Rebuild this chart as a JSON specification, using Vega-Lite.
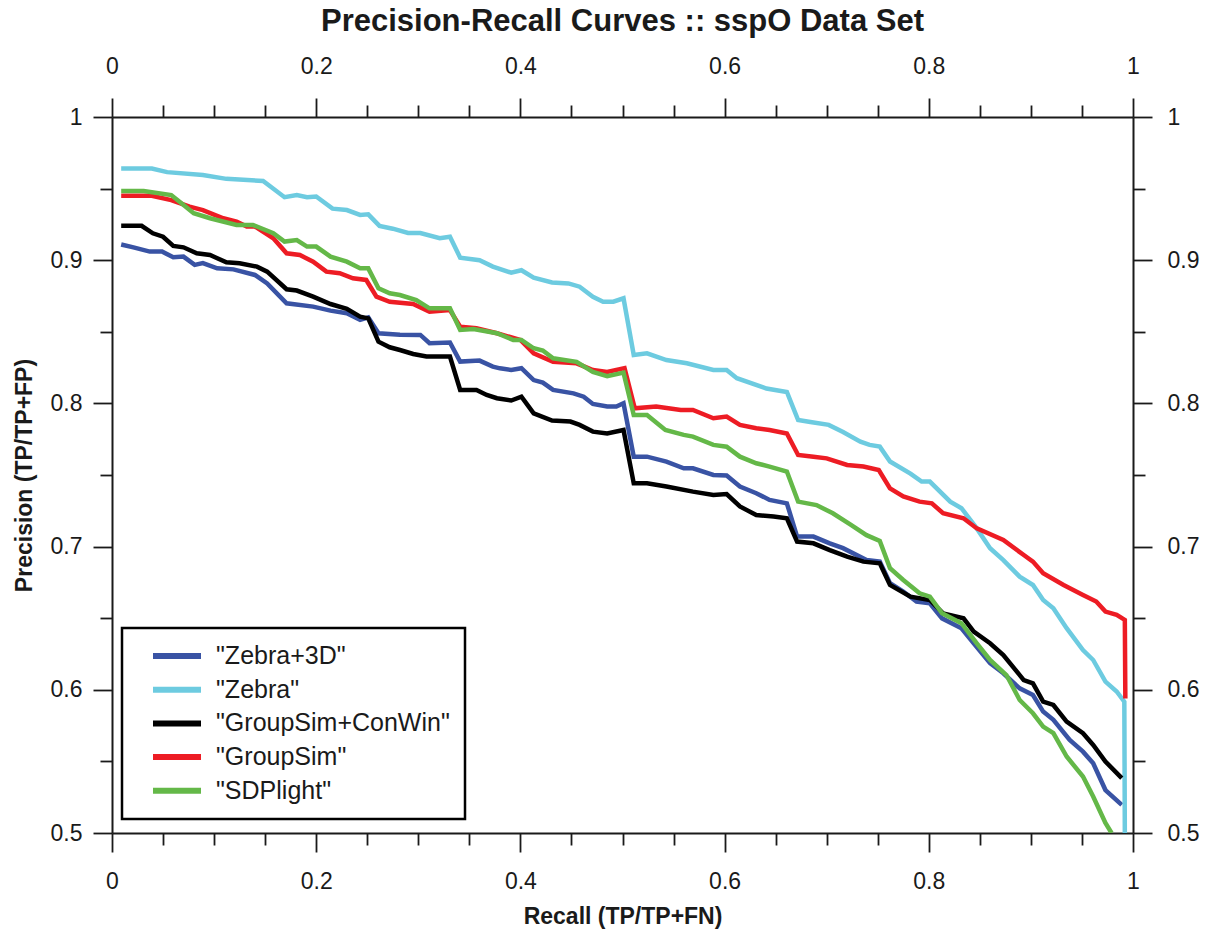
{
  "$schema": "https://vega.github.io/schema/vega-lite/v6.json",
  "width": 1021,
  "height": 716,
  "autosize": {"type": "none"},
  "padding": {"left": 112, "top": 117, "right": 80, "bottom": 105},
  "background": "white",
  "title": {"text": "Precision-Recall Curves :: sspO Data Set", "font": "Liberation Sans", "fontSize": 31, "fontWeight": "bold", "color": "#1a1a1a", "anchor": "middle", "offset": 17},
  "datasets": {
    "pr": [
      {"series": "\"Zebra+3D\"", "recall": 0.009, "precision": 0.911},
      {"series": "\"Zebra+3D\"", "recall": 0.021, "precision": 0.909},
      {"series": "\"Zebra+3D\"", "recall": 0.037, "precision": 0.906},
      {"series": "\"Zebra+3D\"", "recall": 0.049, "precision": 0.906},
      {"series": "\"Zebra+3D\"", "recall": 0.060, "precision": 0.902},
      {"series": "\"Zebra+3D\"", "recall": 0.070, "precision": 0.9025},
      {"series": "\"Zebra+3D\"", "recall": 0.081, "precision": 0.8967},
      {"series": "\"Zebra+3D\"", "recall": 0.089, "precision": 0.898},
      {"series": "\"Zebra+3D\"", "recall": 0.103, "precision": 0.8943},
      {"series": "\"Zebra+3D\"", "recall": 0.119, "precision": 0.8936},
      {"series": "\"Zebra+3D\"", "recall": 0.140, "precision": 0.8897},
      {"series": "\"Zebra+3D\"", "recall": 0.152, "precision": 0.8838},
      {"series": "\"Zebra+3D\"", "recall": 0.171, "precision": 0.8699},
      {"series": "\"Zebra+3D\"", "recall": 0.197, "precision": 0.8676},
      {"series": "\"Zebra+3D\"", "recall": 0.214, "precision": 0.8648},
      {"series": "\"Zebra+3D\"", "recall": 0.230, "precision": 0.863},
      {"series": "\"Zebra+3D\"", "recall": 0.243, "precision": 0.8583},
      {"series": "\"Zebra+3D\"", "recall": 0.251, "precision": 0.8601},
      {"series": "\"Zebra+3D\"", "recall": 0.261, "precision": 0.849},
      {"series": "\"Zebra+3D\"", "recall": 0.282, "precision": 0.848},
      {"series": "\"Zebra+3D\"", "recall": 0.302, "precision": 0.8478},
      {"series": "\"Zebra+3D\"", "recall": 0.311, "precision": 0.842},
      {"series": "\"Zebra+3D\"", "recall": 0.331, "precision": 0.8425},
      {"series": "\"Zebra+3D\"", "recall": 0.341, "precision": 0.8292},
      {"series": "\"Zebra+3D\"", "recall": 0.360, "precision": 0.8299},
      {"series": "\"Zebra+3D\"", "recall": 0.373, "precision": 0.8257},
      {"series": "\"Zebra+3D\"", "recall": 0.380, "precision": 0.8245},
      {"series": "\"Zebra+3D\"", "recall": 0.391, "precision": 0.8233},
      {"series": "\"Zebra+3D\"", "recall": 0.401, "precision": 0.8246},
      {"series": "\"Zebra+3D\"", "recall": 0.413, "precision": 0.8163},
      {"series": "\"Zebra+3D\"", "recall": 0.422, "precision": 0.8145},
      {"series": "\"Zebra+3D\"", "recall": 0.432, "precision": 0.8094},
      {"series": "\"Zebra+3D\"", "recall": 0.452, "precision": 0.807},
      {"series": "\"Zebra+3D\"", "recall": 0.462, "precision": 0.8047},
      {"series": "\"Zebra+3D\"", "recall": 0.471, "precision": 0.7996},
      {"series": "\"Zebra+3D\"", "recall": 0.485, "precision": 0.7978},
      {"series": "\"Zebra+3D\"", "recall": 0.494, "precision": 0.7978},
      {"series": "\"Zebra+3D\"", "recall": 0.501, "precision": 0.8001},
      {"series": "\"Zebra+3D\"", "recall": 0.511, "precision": 0.7628},
      {"series": "\"Zebra+3D\"", "recall": 0.524, "precision": 0.7628},
      {"series": "\"Zebra+3D\"", "recall": 0.543, "precision": 0.7594},
      {"series": "\"Zebra+3D\"", "recall": 0.560, "precision": 0.7547},
      {"series": "\"Zebra+3D\"", "recall": 0.569, "precision": 0.7547},
      {"series": "\"Zebra+3D\"", "recall": 0.589, "precision": 0.75},
      {"series": "\"Zebra+3D\"", "recall": 0.602, "precision": 0.7496},
      {"series": "\"Zebra+3D\"", "recall": 0.615, "precision": 0.742},
      {"series": "\"Zebra+3D\"", "recall": 0.631, "precision": 0.7373},
      {"series": "\"Zebra+3D\"", "recall": 0.644, "precision": 0.7326},
      {"series": "\"Zebra+3D\"", "recall": 0.661, "precision": 0.7302},
      {"series": "\"Zebra+3D\"", "recall": 0.671, "precision": 0.707},
      {"series": "\"Zebra+3D\"", "recall": 0.687, "precision": 0.707},
      {"series": "\"Zebra+3D\"", "recall": 0.703, "precision": 0.7023},
      {"series": "\"Zebra+3D\"", "recall": 0.716, "precision": 0.6989},
      {"series": "\"Zebra+3D\"", "recall": 0.739, "precision": 0.6906},
      {"series": "\"Zebra+3D\"", "recall": 0.752, "precision": 0.6895},
      {"series": "\"Zebra+3D\"", "recall": 0.762, "precision": 0.6744},
      {"series": "\"Zebra+3D\"", "recall": 0.775, "precision": 0.6686},
      {"series": "\"Zebra+3D\"", "recall": 0.788, "precision": 0.6616},
      {"series": "\"Zebra+3D\"", "recall": 0.801, "precision": 0.6604},
      {"series": "\"Zebra+3D\"", "recall": 0.813, "precision": 0.6499},
      {"series": "\"Zebra+3D\"", "recall": 0.832, "precision": 0.643},
      {"series": "\"Zebra+3D\"", "recall": 0.844, "precision": 0.6325},
      {"series": "\"Zebra+3D\"", "recall": 0.860, "precision": 0.6186},
      {"series": "\"Zebra+3D\"", "recall": 0.873, "precision": 0.6115},
      {"series": "\"Zebra+3D\"", "recall": 0.889, "precision": 0.601},
      {"series": "\"Zebra+3D\"", "recall": 0.902, "precision": 0.5964},
      {"series": "\"Zebra+3D\"", "recall": 0.912, "precision": 0.5848},
      {"series": "\"Zebra+3D\"", "recall": 0.922, "precision": 0.579},
      {"series": "\"Zebra+3D\"", "recall": 0.938, "precision": 0.565},
      {"series": "\"Zebra+3D\"", "recall": 0.951, "precision": 0.5568},
      {"series": "\"Zebra+3D\"", "recall": 0.961, "precision": 0.5487},
      {"series": "\"Zebra+3D\"", "recall": 0.973, "precision": 0.53},
      {"series": "\"Zebra+3D\"", "recall": 0.989, "precision": 0.5196},

      {"series": "\"Zebra\"", "recall": 0.009, "precision": 0.964},
      {"series": "\"Zebra\"", "recall": 0.039, "precision": 0.964},
      {"series": "\"Zebra\"", "recall": 0.054, "precision": 0.9615},
      {"series": "\"Zebra\"", "recall": 0.089, "precision": 0.9595},
      {"series": "\"Zebra\"", "recall": 0.112, "precision": 0.9568},
      {"series": "\"Zebra\"", "recall": 0.148, "precision": 0.9553},
      {"series": "\"Zebra\"", "recall": 0.169, "precision": 0.944},
      {"series": "\"Zebra\"", "recall": 0.181, "precision": 0.9455},
      {"series": "\"Zebra\"", "recall": 0.191, "precision": 0.944},
      {"series": "\"Zebra\"", "recall": 0.200, "precision": 0.9445},
      {"series": "\"Zebra\"", "recall": 0.216, "precision": 0.936},
      {"series": "\"Zebra\"", "recall": 0.230, "precision": 0.935},
      {"series": "\"Zebra\"", "recall": 0.243, "precision": 0.9316},
      {"series": "\"Zebra\"", "recall": 0.251, "precision": 0.932},
      {"series": "\"Zebra\"", "recall": 0.262, "precision": 0.924},
      {"series": "\"Zebra\"", "recall": 0.275, "precision": 0.922},
      {"series": "\"Zebra\"", "recall": 0.290, "precision": 0.919},
      {"series": "\"Zebra\"", "recall": 0.302, "precision": 0.919},
      {"series": "\"Zebra\"", "recall": 0.321, "precision": 0.9153},
      {"series": "\"Zebra\"", "recall": 0.331, "precision": 0.9164},
      {"series": "\"Zebra\"", "recall": 0.341, "precision": 0.9018},
      {"series": "\"Zebra\"", "recall": 0.360, "precision": 0.900},
      {"series": "\"Zebra\"", "recall": 0.373, "precision": 0.8955},
      {"series": "\"Zebra\"", "recall": 0.391, "precision": 0.8913},
      {"series": "\"Zebra\"", "recall": 0.401, "precision": 0.893},
      {"series": "\"Zebra\"", "recall": 0.413, "precision": 0.8878},
      {"series": "\"Zebra\"", "recall": 0.431, "precision": 0.8845},
      {"series": "\"Zebra\"", "recall": 0.447, "precision": 0.8838},
      {"series": "\"Zebra\"", "recall": 0.458, "precision": 0.8815},
      {"series": "\"Zebra\"", "recall": 0.471, "precision": 0.8745},
      {"series": "\"Zebra\"", "recall": 0.481, "precision": 0.871},
      {"series": "\"Zebra\"", "recall": 0.491, "precision": 0.871},
      {"series": "\"Zebra\"", "recall": 0.501, "precision": 0.8734},
      {"series": "\"Zebra\"", "recall": 0.511, "precision": 0.8338},
      {"series": "\"Zebra\"", "recall": 0.524, "precision": 0.835},
      {"series": "\"Zebra\"", "recall": 0.543, "precision": 0.8303},
      {"series": "\"Zebra\"", "recall": 0.563, "precision": 0.828},
      {"series": "\"Zebra\"", "recall": 0.589, "precision": 0.8233},
      {"series": "\"Zebra\"", "recall": 0.602, "precision": 0.8233},
      {"series": "\"Zebra\"", "recall": 0.612, "precision": 0.8176},
      {"series": "\"Zebra\"", "recall": 0.641, "precision": 0.8104},
      {"series": "\"Zebra\"", "recall": 0.661, "precision": 0.808},
      {"series": "\"Zebra\"", "recall": 0.672, "precision": 0.7884},
      {"series": "\"Zebra\"", "recall": 0.684, "precision": 0.787},
      {"series": "\"Zebra\"", "recall": 0.702, "precision": 0.785},
      {"series": "\"Zebra\"", "recall": 0.716, "precision": 0.780},
      {"series": "\"Zebra\"", "recall": 0.733, "precision": 0.7733},
      {"series": "\"Zebra\"", "recall": 0.742, "precision": 0.771},
      {"series": "\"Zebra\"", "recall": 0.752, "precision": 0.7698},
      {"series": "\"Zebra\"", "recall": 0.762, "precision": 0.7594},
      {"series": "\"Zebra\"", "recall": 0.782, "precision": 0.751},
      {"series": "\"Zebra\"", "recall": 0.793, "precision": 0.7454},
      {"series": "\"Zebra\"", "recall": 0.801, "precision": 0.7454},
      {"series": "\"Zebra\"", "recall": 0.821, "precision": 0.7314},
      {"series": "\"Zebra\"", "recall": 0.832, "precision": 0.7268},
      {"series": "\"Zebra\"", "recall": 0.847, "precision": 0.7127},
      {"series": "\"Zebra\"", "recall": 0.860, "precision": 0.6989},
      {"series": "\"Zebra\"", "recall": 0.873, "precision": 0.6906},
      {"series": "\"Zebra\"", "recall": 0.889, "precision": 0.679},
      {"series": "\"Zebra\"", "recall": 0.902, "precision": 0.6732},
      {"series": "\"Zebra\"", "recall": 0.912, "precision": 0.6627},
      {"series": "\"Zebra\"", "recall": 0.922, "precision": 0.657},
      {"series": "\"Zebra\"", "recall": 0.935, "precision": 0.643},
      {"series": "\"Zebra\"", "recall": 0.951, "precision": 0.6278},
      {"series": "\"Zebra\"", "recall": 0.961, "precision": 0.6208},
      {"series": "\"Zebra\"", "recall": 0.973, "precision": 0.6057},
      {"series": "\"Zebra\"", "recall": 0.984, "precision": 0.5988},
      {"series": "\"Zebra\"", "recall": 0.9915, "precision": 0.5917},
      {"series": "\"Zebra\"", "recall": 0.992, "precision": 0.5},

      {"series": "\"GroupSim+ConWin\"", "recall": 0.009, "precision": 0.924},
      {"series": "\"GroupSim+ConWin\"", "recall": 0.029, "precision": 0.924},
      {"series": "\"GroupSim+ConWin\"", "recall": 0.040, "precision": 0.9188},
      {"series": "\"GroupSim+ConWin\"", "recall": 0.050, "precision": 0.9164},
      {"series": "\"GroupSim+ConWin\"", "recall": 0.060, "precision": 0.910},
      {"series": "\"GroupSim+ConWin\"", "recall": 0.070, "precision": 0.909},
      {"series": "\"GroupSim+ConWin\"", "recall": 0.083, "precision": 0.9048},
      {"series": "\"GroupSim+ConWin\"", "recall": 0.096, "precision": 0.9036},
      {"series": "\"GroupSim+ConWin\"", "recall": 0.112, "precision": 0.8985},
      {"series": "\"GroupSim+ConWin\"", "recall": 0.125, "precision": 0.8978},
      {"series": "\"GroupSim+ConWin\"", "recall": 0.142, "precision": 0.8955},
      {"series": "\"GroupSim+ConWin\"", "recall": 0.152, "precision": 0.892},
      {"series": "\"GroupSim+ConWin\"", "recall": 0.171, "precision": 0.8797},
      {"series": "\"GroupSim+ConWin\"", "recall": 0.181, "precision": 0.8788},
      {"series": "\"GroupSim+ConWin\"", "recall": 0.197, "precision": 0.8746},
      {"series": "\"GroupSim+ConWin\"", "recall": 0.214, "precision": 0.8694},
      {"series": "\"GroupSim+ConWin\"", "recall": 0.230, "precision": 0.866},
      {"series": "\"GroupSim+ConWin\"", "recall": 0.243, "precision": 0.8606},
      {"series": "\"GroupSim+ConWin\"", "recall": 0.251, "precision": 0.8594},
      {"series": "\"GroupSim+ConWin\"", "recall": 0.261, "precision": 0.8431},
      {"series": "\"GroupSim+ConWin\"", "recall": 0.272, "precision": 0.8392},
      {"series": "\"GroupSim+ConWin\"", "recall": 0.282, "precision": 0.8373},
      {"series": "\"GroupSim+ConWin\"", "recall": 0.295, "precision": 0.8345},
      {"series": "\"GroupSim+ConWin\"", "recall": 0.308, "precision": 0.8327},
      {"series": "\"GroupSim+ConWin\"", "recall": 0.331, "precision": 0.8327},
      {"series": "\"GroupSim+ConWin\"", "recall": 0.341, "precision": 0.8094},
      {"series": "\"GroupSim+ConWin\"", "recall": 0.357, "precision": 0.8094},
      {"series": "\"GroupSim+ConWin\"", "recall": 0.367, "precision": 0.8059},
      {"series": "\"GroupSim+ConWin\"", "recall": 0.377, "precision": 0.8036},
      {"series": "\"GroupSim+ConWin\"", "recall": 0.391, "precision": 0.802},
      {"series": "\"GroupSim+ConWin\"", "recall": 0.401, "precision": 0.8047},
      {"series": "\"GroupSim+ConWin\"", "recall": 0.413, "precision": 0.7931},
      {"series": "\"GroupSim+ConWin\"", "recall": 0.431, "precision": 0.788},
      {"series": "\"GroupSim+ConWin\"", "recall": 0.449, "precision": 0.7873},
      {"series": "\"GroupSim+ConWin\"", "recall": 0.458, "precision": 0.785},
      {"series": "\"GroupSim+ConWin\"", "recall": 0.471, "precision": 0.7803},
      {"series": "\"GroupSim+ConWin\"", "recall": 0.485, "precision": 0.779},
      {"series": "\"GroupSim+ConWin\"", "recall": 0.501, "precision": 0.7814},
      {"series": "\"GroupSim+ConWin\"", "recall": 0.511, "precision": 0.7442},
      {"series": "\"GroupSim+ConWin\"", "recall": 0.524, "precision": 0.7442},
      {"series": "\"GroupSim+ConWin\"", "recall": 0.543, "precision": 0.742},
      {"series": "\"GroupSim+ConWin\"", "recall": 0.569, "precision": 0.7384},
      {"series": "\"GroupSim+ConWin\"", "recall": 0.589, "precision": 0.736},
      {"series": "\"GroupSim+ConWin\"", "recall": 0.602, "precision": 0.7367},
      {"series": "\"GroupSim+ConWin\"", "recall": 0.615, "precision": 0.728},
      {"series": "\"GroupSim+ConWin\"", "recall": 0.631, "precision": 0.722},
      {"series": "\"GroupSim+ConWin\"", "recall": 0.648, "precision": 0.721},
      {"series": "\"GroupSim+ConWin\"", "recall": 0.661, "precision": 0.7198},
      {"series": "\"GroupSim+ConWin\"", "recall": 0.671, "precision": 0.7035},
      {"series": "\"GroupSim+ConWin\"", "recall": 0.687, "precision": 0.7023},
      {"series": "\"GroupSim+ConWin\"", "recall": 0.703, "precision": 0.6976},
      {"series": "\"GroupSim+ConWin\"", "recall": 0.720, "precision": 0.693},
      {"series": "\"GroupSim+ConWin\"", "recall": 0.736, "precision": 0.6895},
      {"series": "\"GroupSim+ConWin\"", "recall": 0.752, "precision": 0.6883},
      {"series": "\"GroupSim+ConWin\"", "recall": 0.762, "precision": 0.6732},
      {"series": "\"GroupSim+ConWin\"", "recall": 0.782, "precision": 0.665},
      {"series": "\"GroupSim+ConWin\"", "recall": 0.801, "precision": 0.6627},
      {"series": "\"GroupSim+ConWin\"", "recall": 0.814, "precision": 0.6534},
      {"series": "\"GroupSim+ConWin\"", "recall": 0.834, "precision": 0.6499},
      {"series": "\"GroupSim+ConWin\"", "recall": 0.844, "precision": 0.6406},
      {"series": "\"GroupSim+ConWin\"", "recall": 0.860, "precision": 0.6325},
      {"series": "\"GroupSim+ConWin\"", "recall": 0.873, "precision": 0.6243},
      {"series": "\"GroupSim+ConWin\"", "recall": 0.893, "precision": 0.6068},
      {"series": "\"GroupSim+ConWin\"", "recall": 0.902, "precision": 0.6045},
      {"series": "\"GroupSim+ConWin\"", "recall": 0.912, "precision": 0.5917},
      {"series": "\"GroupSim+ConWin\"", "recall": 0.922, "precision": 0.5894},
      {"series": "\"GroupSim+ConWin\"", "recall": 0.935, "precision": 0.5778},
      {"series": "\"GroupSim+ConWin\"", "recall": 0.951, "precision": 0.5697},
      {"series": "\"GroupSim+ConWin\"", "recall": 0.961, "precision": 0.5615},
      {"series": "\"GroupSim+ConWin\"", "recall": 0.973, "precision": 0.5499},
      {"series": "\"GroupSim+ConWin\"", "recall": 0.989, "precision": 0.5383},

      {"series": "\"GroupSim\"", "recall": 0.009, "precision": 0.945},
      {"series": "\"GroupSim\"", "recall": 0.039, "precision": 0.945},
      {"series": "\"GroupSim\"", "recall": 0.058, "precision": 0.942},
      {"series": "\"GroupSim\"", "recall": 0.076, "precision": 0.9374},
      {"series": "\"GroupSim\"", "recall": 0.089, "precision": 0.935},
      {"series": "\"GroupSim\"", "recall": 0.109, "precision": 0.9293},
      {"series": "\"GroupSim\"", "recall": 0.122, "precision": 0.927},
      {"series": "\"GroupSim\"", "recall": 0.132, "precision": 0.9235},
      {"series": "\"GroupSim\"", "recall": 0.140, "precision": 0.9235},
      {"series": "\"GroupSim\"", "recall": 0.158, "precision": 0.9153},
      {"series": "\"GroupSim\"", "recall": 0.171, "precision": 0.9048},
      {"series": "\"GroupSim\"", "recall": 0.184, "precision": 0.9036},
      {"series": "\"GroupSim\"", "recall": 0.197, "precision": 0.899},
      {"series": "\"GroupSim\"", "recall": 0.210, "precision": 0.892},
      {"series": "\"GroupSim\"", "recall": 0.223, "precision": 0.8909},
      {"series": "\"GroupSim\"", "recall": 0.236, "precision": 0.8874},
      {"series": "\"GroupSim\"", "recall": 0.249, "precision": 0.8862},
      {"series": "\"GroupSim\"", "recall": 0.259, "precision": 0.8746},
      {"series": "\"GroupSim\"", "recall": 0.272, "precision": 0.871},
      {"series": "\"GroupSim\"", "recall": 0.295, "precision": 0.8694},
      {"series": "\"GroupSim\"", "recall": 0.311, "precision": 0.864},
      {"series": "\"GroupSim\"", "recall": 0.331, "precision": 0.8652},
      {"series": "\"GroupSim\"", "recall": 0.341, "precision": 0.8536},
      {"series": "\"GroupSim\"", "recall": 0.357, "precision": 0.8525},
      {"series": "\"GroupSim\"", "recall": 0.377, "precision": 0.849},
      {"series": "\"GroupSim\"", "recall": 0.400, "precision": 0.8443},
      {"series": "\"GroupSim\"", "recall": 0.413, "precision": 0.835},
      {"series": "\"GroupSim\"", "recall": 0.432, "precision": 0.829},
      {"series": "\"GroupSim\"", "recall": 0.455, "precision": 0.828},
      {"series": "\"GroupSim\"", "recall": 0.471, "precision": 0.8233},
      {"series": "\"GroupSim\"", "recall": 0.485, "precision": 0.822},
      {"series": "\"GroupSim\"", "recall": 0.502, "precision": 0.8246},
      {"series": "\"GroupSim\"", "recall": 0.512, "precision": 0.7966},
      {"series": "\"GroupSim\"", "recall": 0.533, "precision": 0.7978},
      {"series": "\"GroupSim\"", "recall": 0.557, "precision": 0.7954},
      {"series": "\"GroupSim\"", "recall": 0.569, "precision": 0.7954},
      {"series": "\"GroupSim\"", "recall": 0.589, "precision": 0.7896},
      {"series": "\"GroupSim\"", "recall": 0.602, "precision": 0.7908},
      {"series": "\"GroupSim\"", "recall": 0.615, "precision": 0.785},
      {"series": "\"GroupSim\"", "recall": 0.631, "precision": 0.7827},
      {"series": "\"GroupSim\"", "recall": 0.644, "precision": 0.7814},
      {"series": "\"GroupSim\"", "recall": 0.661, "precision": 0.779},
      {"series": "\"GroupSim\"", "recall": 0.672, "precision": 0.764},
      {"series": "\"GroupSim\"", "recall": 0.687, "precision": 0.7628},
      {"series": "\"GroupSim\"", "recall": 0.700, "precision": 0.7616},
      {"series": "\"GroupSim\"", "recall": 0.720, "precision": 0.757},
      {"series": "\"GroupSim\"", "recall": 0.736, "precision": 0.7559},
      {"series": "\"GroupSim\"", "recall": 0.751, "precision": 0.7535},
      {"series": "\"GroupSim\"", "recall": 0.762, "precision": 0.7407},
      {"series": "\"GroupSim\"", "recall": 0.775, "precision": 0.735},
      {"series": "\"GroupSim\"", "recall": 0.791, "precision": 0.7314},
      {"series": "\"GroupSim\"", "recall": 0.803, "precision": 0.7302},
      {"series": "\"GroupSim\"", "recall": 0.814, "precision": 0.7233},
      {"series": "\"GroupSim\"", "recall": 0.834, "precision": 0.7198},
      {"series": "\"GroupSim\"", "recall": 0.847, "precision": 0.7127},
      {"series": "\"GroupSim\"", "recall": 0.873, "precision": 0.7046},
      {"series": "\"GroupSim\"", "recall": 0.893, "precision": 0.6941},
      {"series": "\"GroupSim\"", "recall": 0.902, "precision": 0.6895},
      {"series": "\"GroupSim\"", "recall": 0.912, "precision": 0.6814},
      {"series": "\"GroupSim\"", "recall": 0.932, "precision": 0.6732},
      {"series": "\"GroupSim\"", "recall": 0.951, "precision": 0.6662},
      {"series": "\"GroupSim\"", "recall": 0.964, "precision": 0.6616},
      {"series": "\"GroupSim\"", "recall": 0.973, "precision": 0.6546},
      {"series": "\"GroupSim\"", "recall": 0.984, "precision": 0.6523},
      {"series": "\"GroupSim\"", "recall": 0.992, "precision": 0.6488},
      {"series": "\"GroupSim\"", "recall": 0.9925, "precision": 0.594},

      {"series": "\"SDPlight\"", "recall": 0.009, "precision": 0.9483},
      {"series": "\"SDPlight\"", "recall": 0.031, "precision": 0.9483},
      {"series": "\"SDPlight\"", "recall": 0.058, "precision": 0.9455},
      {"series": "\"SDPlight\"", "recall": 0.068, "precision": 0.9397},
      {"series": "\"SDPlight\"", "recall": 0.080, "precision": 0.9328},
      {"series": "\"SDPlight\"", "recall": 0.096, "precision": 0.9293},
      {"series": "\"SDPlight\"", "recall": 0.122, "precision": 0.9246},
      {"series": "\"SDPlight\"", "recall": 0.138, "precision": 0.9246},
      {"series": "\"SDPlight\"", "recall": 0.158, "precision": 0.9188},
      {"series": "\"SDPlight\"", "recall": 0.169, "precision": 0.913},
      {"series": "\"SDPlight\"", "recall": 0.181, "precision": 0.9141},
      {"series": "\"SDPlight\"", "recall": 0.191, "precision": 0.9095},
      {"series": "\"SDPlight\"", "recall": 0.200, "precision": 0.9095},
      {"series": "\"SDPlight\"", "recall": 0.214, "precision": 0.9025},
      {"series": "\"SDPlight\"", "recall": 0.230, "precision": 0.899},
      {"series": "\"SDPlight\"", "recall": 0.243, "precision": 0.8943},
      {"series": "\"SDPlight\"", "recall": 0.251, "precision": 0.8943},
      {"series": "\"SDPlight\"", "recall": 0.261, "precision": 0.8804},
      {"series": "\"SDPlight\"", "recall": 0.272, "precision": 0.8769},
      {"series": "\"SDPlight\"", "recall": 0.282, "precision": 0.8757},
      {"series": "\"SDPlight\"", "recall": 0.298, "precision": 0.8722},
      {"series": "\"SDPlight\"", "recall": 0.311, "precision": 0.8664},
      {"series": "\"SDPlight\"", "recall": 0.331, "precision": 0.8664},
      {"series": "\"SDPlight\"", "recall": 0.341, "precision": 0.8513},
      {"series": "\"SDPlight\"", "recall": 0.354, "precision": 0.852},
      {"series": "\"SDPlight\"", "recall": 0.377, "precision": 0.849},
      {"series": "\"SDPlight\"", "recall": 0.393, "precision": 0.8443},
      {"series": "\"SDPlight\"", "recall": 0.401, "precision": 0.8443},
      {"series": "\"SDPlight\"", "recall": 0.413, "precision": 0.8385},
      {"series": "\"SDPlight\"", "recall": 0.422, "precision": 0.8369},
      {"series": "\"SDPlight\"", "recall": 0.432, "precision": 0.8315},
      {"series": "\"SDPlight\"", "recall": 0.455, "precision": 0.829},
      {"series": "\"SDPlight\"", "recall": 0.471, "precision": 0.822},
      {"series": "\"SDPlight\"", "recall": 0.485, "precision": 0.819},
      {"series": "\"SDPlight\"", "recall": 0.501, "precision": 0.8215},
      {"series": "\"SDPlight\"", "recall": 0.511, "precision": 0.7919},
      {"series": "\"SDPlight\"", "recall": 0.524, "precision": 0.7919},
      {"series": "\"SDPlight\"", "recall": 0.542, "precision": 0.7814},
      {"series": "\"SDPlight\"", "recall": 0.560, "precision": 0.778},
      {"series": "\"SDPlight\"", "recall": 0.569, "precision": 0.7768},
      {"series": "\"SDPlight\"", "recall": 0.589, "precision": 0.771},
      {"series": "\"SDPlight\"", "recall": 0.602, "precision": 0.7698},
      {"series": "\"SDPlight\"", "recall": 0.615, "precision": 0.7628},
      {"series": "\"SDPlight\"", "recall": 0.631, "precision": 0.7582},
      {"series": "\"SDPlight\"", "recall": 0.644, "precision": 0.7559},
      {"series": "\"SDPlight\"", "recall": 0.661, "precision": 0.7524},
      {"series": "\"SDPlight\"", "recall": 0.672, "precision": 0.7314},
      {"series": "\"SDPlight\"", "recall": 0.690, "precision": 0.729},
      {"series": "\"SDPlight\"", "recall": 0.706, "precision": 0.7233},
      {"series": "\"SDPlight\"", "recall": 0.723, "precision": 0.7155},
      {"series": "\"SDPlight\"", "recall": 0.739, "precision": 0.708},
      {"series": "\"SDPlight\"", "recall": 0.752, "precision": 0.704},
      {"series": "\"SDPlight\"", "recall": 0.762, "precision": 0.6849},
      {"series": "\"SDPlight\"", "recall": 0.775, "precision": 0.6767},
      {"series": "\"SDPlight\"", "recall": 0.791, "precision": 0.6674},
      {"series": "\"SDPlight\"", "recall": 0.801, "precision": 0.665},
      {"series": "\"SDPlight\"", "recall": 0.813, "precision": 0.6534},
      {"series": "\"SDPlight\"", "recall": 0.832, "precision": 0.6465},
      {"series": "\"SDPlight\"", "recall": 0.847, "precision": 0.6325},
      {"series": "\"SDPlight\"", "recall": 0.860, "precision": 0.6208},
      {"series": "\"SDPlight\"", "recall": 0.876, "precision": 0.6103},
      {"series": "\"SDPlight\"", "recall": 0.889, "precision": 0.5929},
      {"series": "\"SDPlight\"", "recall": 0.902, "precision": 0.5836},
      {"series": "\"SDPlight\"", "recall": 0.912, "precision": 0.5743},
      {"series": "\"SDPlight\"", "recall": 0.922, "precision": 0.5697},
      {"series": "\"SDPlight\"", "recall": 0.935, "precision": 0.5534},
      {"series": "\"SDPlight\"", "recall": 0.951, "precision": 0.5394},
      {"series": "\"SDPlight\"", "recall": 0.961, "precision": 0.5255},
      {"series": "\"SDPlight\"", "recall": 0.973, "precision": 0.507},
      {"series": "\"SDPlight\"", "recall": 0.979, "precision": 0.5}
    ]
  },
  "data": {"name": "pr"},
  "layer": [
    {
      "mark": {"type": "line", "strokeWidth": 4.5, "clip": true},
      "encoding": {
        "x": {
          "field": "recall", "type": "quantitative",
          "scale": {"domain": [0, 1], "nice": false, "zero": false},
          "axis": {"orient": "bottom", "values": [0, 0.2, 0.4, 0.6, 0.8, 1], "format": "~g", "tickSize": 19, "labelPadding": 18, "title": "Recall (TP/TP+FN)", "titlePadding": 12}
        },
        "y": {
          "field": "precision", "type": "quantitative",
          "scale": {"domain": [0.5, 1], "nice": false, "zero": false},
          "axis": {"orient": "left", "values": [0.5, 0.6, 0.7, 0.8, 0.9, 1], "format": "~g", "tickSize": 19, "labelPadding": 11, "title": "Precision (TP/TP+FP)", "titlePadding": 14}
        },
        "color": {
          "field": "series", "type": "nominal",
          "scale": {
            "domain": ["\"Zebra+3D\"", "\"Zebra\"", "\"GroupSim+ConWin\"", "\"GroupSim\"", "\"SDPlight\""],
            "range": ["#3953a4", "#6dcbe0", "#000000", "#ed1c24", "#64b848"]
          },
          "legend": {
            "orient": "none", "legendX": 10, "legendY": 511, "title": null,
            "symbolType": "stroke", "symbolSize": 2304, "symbolStrokeWidth": 6,
            "symbolOffset": 13, "labelOffset": 12, "labelFontSize": 25, "labelFont": "Liberation Sans",
            "labelColor": "#1a1a1a", "labelLimit": 500, "padding": 15, "rowPadding": 7.7, "clipHeight": 26,
            "strokeColor": "#000000", "fillColor": "#ffffff"
          }
        }
      }
    },
    {
      "mark": {"type": "point", "opacity": 0, "size": 0},
      "encoding": {
        "x": {"field": "recall", "type": "quantitative", "scale": {"domain": [0, 1], "nice": false, "zero": false},
          "axis": {"orient": "top", "values": [0, 0.2, 0.4, 0.6, 0.8, 1], "format": "~g", "tickSize": 19, "labelPadding": 20, "title": null}},
        "y": {"field": "precision", "type": "quantitative", "scale": {"domain": [0.5, 1], "nice": false, "zero": false},
          "axis": {"orient": "right", "values": [0.5, 0.6, 0.7, 0.8, 0.9, 1], "format": "~g", "tickSize": 19, "labelPadding": 15, "title": null}}
      }
    },
    {
      "mark": {"type": "point", "opacity": 0, "size": 0},
      "encoding": {
        "x": {"field": "recall", "type": "quantitative", "scale": {"domain": [0, 1], "nice": false, "zero": false},
          "axis": {"orient": "bottom", "values": [0.05, 0.1, 0.15, 0.25, 0.3, 0.35, 0.45, 0.5, 0.55, 0.65, 0.7, 0.75, 0.85, 0.9, 0.95], "tickSize": 12, "labels": false, "domain": false, "title": null}},
        "y": {"field": "precision", "type": "quantitative", "scale": {"domain": [0.5, 1], "nice": false, "zero": false},
          "axis": {"orient": "left", "values": [0.55, 0.65, 0.75, 0.85, 0.95], "tickSize": 12, "labels": false, "domain": false, "title": null}}
      }
    },
    {
      "mark": {"type": "point", "opacity": 0, "size": 0},
      "encoding": {
        "x": {"field": "recall", "type": "quantitative", "scale": {"domain": [0, 1], "nice": false, "zero": false},
          "axis": {"orient": "top", "values": [0.05, 0.1, 0.15, 0.25, 0.3, 0.35, 0.45, 0.5, 0.55, 0.65, 0.7, 0.75, 0.85, 0.9, 0.95], "tickSize": 12, "labels": false, "domain": false, "title": null}},
        "y": {"field": "precision", "type": "quantitative", "scale": {"domain": [0.5, 1], "nice": false, "zero": false},
          "axis": {"orient": "right", "values": [0.55, 0.65, 0.75, 0.85, 0.95], "tickSize": 12, "labels": false, "domain": false, "title": null}}
      }
    }
  ],
  "resolve": {"axis": {"x": "independent", "y": "independent"}},
  "config": {
    "view": {"stroke": null},
    "axis": {
      "grid": false,
      "domainColor": "#1a1a1a", "domainWidth": 2,
      "tickColor": "#1a1a1a", "tickWidth": 1.8,
      "labelFont": "Liberation Sans", "labelFontSize": 23, "labelColor": "#1a1a1a",
      "labelFlush": false, "labelOverlap": false,
      "titleFont": "Liberation Sans", "titleFontSize": 23, "titleFontWeight": "bold", "titleColor": "#1a1a1a"
    },
    "legend": {"strokeWidth": 2.5}
  }
}
